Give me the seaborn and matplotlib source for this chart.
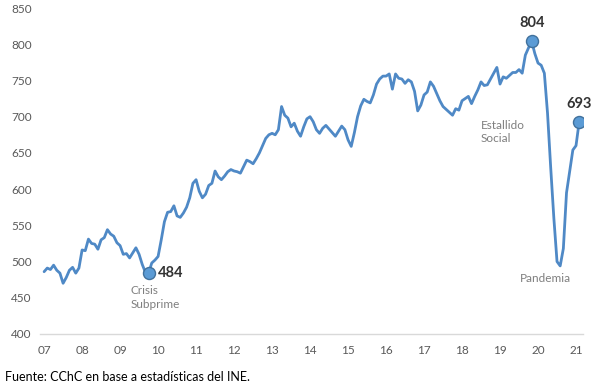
import numpy as np
import pandas as pd
import matplotlib.pyplot as plt
import seaborn as sns

# -----------------------------
# Data (monthly values, thousands)
# -----------------------------
y2007 = [486, 491, 489, 495, 488, 484, 470, 478, 488, 492, 484, 491]
y2008 = [516, 515, 531, 525, 524, 517, 530, 533, 544, 538, 535, 526]
y2009 = [522, 510, 511, 505, 512, 519, 510, 496, 485, 484, 498, 502]
y2010 = [507, 530, 555, 568, 569, 577, 563, 561, 567, 575, 588, 608]
y2011 = [613, 597, 588, 593, 605, 608, 625, 617, 613, 618, 624, 627]
y2012 = [625, 624, 622, 631, 640, 638, 635, 642, 650, 660, 670, 675]
y2013 = [677, 675, 682, 714, 702, 698, 686, 691, 680, 673, 686, 697]
y2014 = [700, 693, 682, 677, 684, 688, 683, 678, 673, 680, 687, 682]
y2015 = [668, 659, 678, 700, 715, 724, 721, 719, 730, 745, 752, 756]
y2016 = [756, 759, 738, 759, 753, 752, 746, 751, 748, 735, 708, 716]
y2017 = [730, 734, 748, 742, 732, 722, 714, 710, 706, 702, 711, 709]
y2018 = [722, 725, 728, 718, 728, 737, 748, 743, 744, 752, 760, 768]
y2019 = [745, 755, 753, 757, 761, 761, 765, 760, 785, 795, 804, 787]
y2020 = [774, 771, 760, 705, 630, 560, 500, 494, 518, 595, 625, 654]
y2021 = [660, 693]

year_labels = ['07', '08', '09', '10', '11', '12', '13', '14',
               '15', '16', '17', '18', '19', '20', '21']

# highlighted months (position in series) and their notes
highlight_pos = [33, 154, 169]
event_labels = ['Crisis\nSubprime', 'Estallido\nSocial', 'Pandemia']

values = (y2007 + y2008 + y2009 + y2010 + y2011 + y2012 + y2013 + y2014
          + y2015 + y2016 + y2017 + y2018 + y2019 + y2020 + y2021)
df = pd.DataFrame({'mes': np.arange(len(values)), 'valor': values})
hl = df.iloc[highlight_pos]

# -----------------------------
# Plot
# -----------------------------
sns.set_style("white")
plt.rcParams['font.family'] = ['Lato', 'DejaVu Sans']

line_color = '#4f89c6'
grey = '#595959'

fig = plt.figure(figsize=(6.04, 3.89), dpi=100)
ax = fig.add_axes([0.0662, 0.1414, 0.8990, 0.8380])

sns.lineplot(data=df, x='mes', y='valor', color=line_color, linewidth=2, ax=ax)
sns.scatterplot(data=hl, x='mes', y='valor', s=75, color='#5b9bd5',
                edgecolor='#41719c', linewidth=1, zorder=5, ax=ax)

# value labels
offsets = [(7, 0), (0, 8), (0, 8)]
aligns = [('left', 'center'), ('center', 'bottom'), ('center', 'bottom')]
for (m, v), off, (ha, va) in zip(zip(hl['mes'], hl['valor']), offsets, aligns):
    ax.annotate(str(v), (m, v), xytext=off, textcoords='offset points',
                ha=ha, va=va, fontsize=10.5, fontweight='bold', color='#333333')

# event notes
ax.text(27.4, 467, event_labels[0], ha='left', va='top', fontsize=8.5,
        color='#7f7f7f', linespacing=1.3)
ax.text(138.0, 696, event_labels[1], ha='left', va='top', fontsize=8.5,
        color='#7f7f7f', linespacing=1.3)
ax.text(158.5, 476, event_labels[2], ha='center', va='center', fontsize=8.5,
        color='#7f7f7f')

ax.set_xlim(-1.3, 170.2)
ax.set_ylim(400, 850)
ax.set_yticks(range(400, 851, 50))
ax.set_xticks(np.arange(len(year_labels)) * 12)
ax.set_xticklabels(year_labels)
ax.set_xlabel('')
ax.set_ylabel('')
ax.tick_params(axis='both', length=0, colors=grey, labelsize=8.5)
ax.tick_params(axis='y', pad=6)
ax.tick_params(axis='x', pad=8)

for s in ['left', 'top', 'right']:
    ax.spines[s].set_visible(False)
ax.spines['bottom'].set_color('#d9d9d9')
ax.spines['bottom'].set_linewidth(1)

fig.text(5 / 604, 1 - 377 / 389, 'Fuente: CChC en base a estadísticas del INE.',
         ha='left', va='center', fontsize=9, color='#000000')

fig.savefig('out.png', dpi=100)
